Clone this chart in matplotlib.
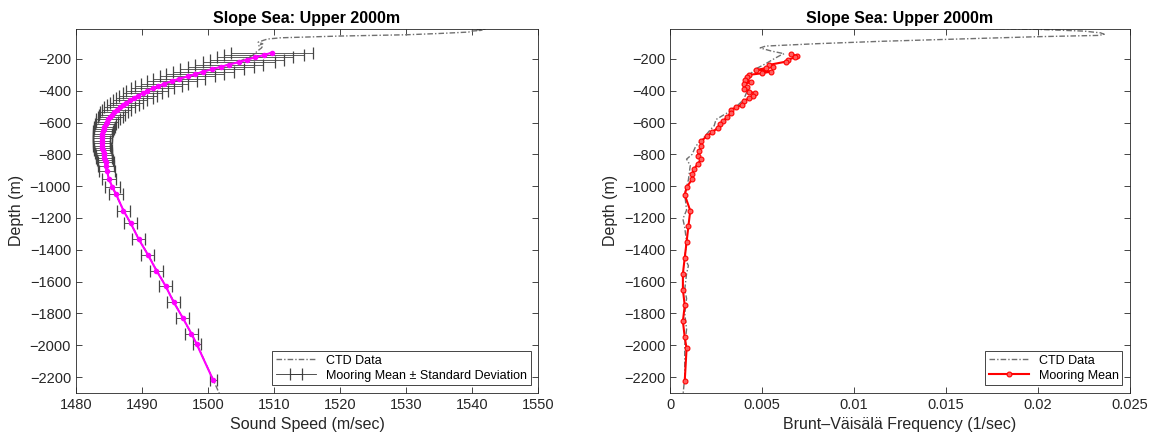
import matplotlib.pyplot as plt
import numpy as np

plt.rcParams['font.family'] = ['Liberation Sans', 'DejaVu Sans']

# ---- Sound speed panel data ----
ctd_depth_ss = [-5, -12, -16, -20, -25, -31, -40, -48, -56, -67, -75, -83, -95, -105, -115, -125, -131,
                -150, -177, -220, -300, -400, -500, -600, -700, -800, -900, -1000, -1200,
                -1400, -1600, -1800, -2000, -2200, -2320]
ctd_speed = [1541.5, 1542.0, 1540.8, 1541.6, 1539.8, 1539.5, 1535.0, 1530.0, 1520.0, 1511.0, 1509.0,
             1508.4, 1507.6, 1508.3, 1507.6, 1508.2, 1508.1, 1507.5, 1506.8, 1504.5, 1497.5,
             1491.0, 1487.0, 1484.7, 1484.0, 1484.0, 1484.6, 1485.4, 1487.8, 1490.5, 1493.2,
             1495.8, 1498.4, 1500.6, 1501.9]

moor_depth_ss = [-160, -175, -190, -205, -220, -235, -250, -265, -280, -295, -310, -325, -340,
                 -355, -370, -385, -400, -415, -430, -445, -460, -475, -490, -505, -520, -535,
                 -550, -565, -580, -595, -610, -625, -640, -655, -670, -685, -700, -715, -730,
                 -745, -760, -775, -790, -805, -820, -835, -850, -870, -904, -956, -1003, -1052,
                 -1154, -1233, -1333, -1431, -1531, -1629, -1729, -1829, -1927, -1994, -2220]
moor_speed = [1509.7, 1508.5, 1507.1, 1505.9, 1504.7, 1503.2, 1501.9, 1500.6, 1499.3, 1498.1,
              1496.9, 1495.6, 1494.5, 1493.4, 1492.5, 1491.6, 1490.8, 1490.1, 1489.4, 1488.8,
              1488.2, 1487.6, 1487.1, 1486.6, 1486.2, 1485.8, 1485.5, 1485.2, 1484.9, 1484.7,
              1484.5, 1484.3, 1484.2, 1484.1, 1484.0, 1484.0, 1484.0, 1483.9, 1483.9, 1483.9,
              1484.0, 1484.1, 1484.2, 1484.2, 1484.3, 1484.4, 1484.5, 1484.6, 1484.7, 1485.0,
              1485.5, 1486.1, 1487.2, 1488.3, 1489.5, 1490.9, 1492.2, 1493.6, 1494.8, 1496.2,
              1497.5, 1498.3, 1500.8]
moor_speed_sd = [6.2, 6.0, 5.8, 5.6, 5.4, 5.2, 5.0, 4.8, 4.6, 4.4, 4.2, 4.0, 3.8, 3.6, 3.5, 3.3,
                 3.2, 3.0, 2.9, 2.8, 2.6, 2.5, 2.4, 2.3, 2.2, 2.1, 2.0, 1.9, 1.8, 1.7, 1.6, 1.6,
                 1.5, 1.5, 1.4, 1.4, 1.4, 1.3, 1.3, 1.3, 1.3, 1.3, 1.3, 1.2, 1.2, 1.2, 1.2, 1.2,
                 1.2, 1.1, 1.1, 1.1, 1.0, 1.0, 1.0, 1.0, 1.0, 1.0, 1.0, 1.0, 1.0, 0.6, 0.5]

# ---- Brunt-Vaisala panel data ----
ctd_depth_n = [-5, -14, -25, -36, -45, -52, -60, -77, -89, -104, -119, -131, -150, -167, -177,
               -196, -230, -260, -300, -350, -400, -456, -500, -540, -560, -581, -620, -644,
               -700, -748, -800, -830, -870, -960, -1050, -1150, -1206, -1260, -1350, -1450,
               -1500, -1550, -1650, -1706, -1800, -1900, -2000, -2100, -2200, -2320]
ctd_n = [0.0155, 0.0200, 0.0225, 0.0234, 0.0236, 0.0233, 0.0200, 0.0150, 0.0115, 0.0080,
         0.0052, 0.0049, 0.0055, 0.0062, 0.0060, 0.0057, 0.0052, 0.0047, 0.0043, 0.0041,
         0.0042, 0.0040, 0.0036, 0.0031, 0.0028, 0.0025, 0.0024, 0.0022, 0.0018, 0.0014,
         0.0012, 0.0009, 0.0011, 0.0010, 0.0008, 0.0009, 0.0007, 0.0008, 0.0009, 0.0008,
         0.0010, 0.0009, 0.0008, 0.0009, 0.0008, 0.0009, 0.0008, 0.0008, 0.0008, 0.0007]

moor_depth_n = [-172, -180, -190, -205, -217, -237, -248, -258, -269, -279, -290, -300, -315,
                -331, -345, -360, -375, -390, -405, -415, -430, -446, -465, -488, -505, -519,
                -540, -565, -590, -610, -633, -660, -685, -717, -750, -779, -810, -831, -860,
                -894, -925, -956, -1008, -1054, -1154, -1250, -1352, -1450, -1550, -1650,
                -1750, -1850, -1950, -2020, -2225]
moor_n = [0.0066, 0.0069, 0.0068, 0.0064, 0.0063, 0.0054, 0.0056, 0.0052, 0.0047, 0.0055,
          0.0050, 0.0043, 0.0042, 0.0041, 0.0044, 0.0040, 0.0042, 0.0040, 0.0043, 0.0046,
          0.0045, 0.0043, 0.0040, 0.0039, 0.0036, 0.0033, 0.0033, 0.0031, 0.0029, 0.0027,
          0.0026, 0.0023, 0.0020, 0.0017, 0.0017, 0.0016, 0.0015, 0.0017, 0.0015, 0.0013,
          0.0012, 0.0012, 0.0009, 0.0008, 0.0011, 0.0010, 0.0009, 0.0008, 0.0007, 0.0007,
          0.0008, 0.0007, 0.0008, 0.0009, 0.0008]

title = 'Slope Sea: Upper 2000m'
depth_ticks = list(range(-2200, 0, 200))
speed_ticks = [1480, 1490, 1500, 1510, 1520, 1530, 1540, 1550]
n_ticks = [0, 0.005, 0.01, 0.015, 0.02, 0.025]
n_tick_labels = ['0', '0.005', '0.01', '0.015', '0.02', '0.025']

txt = '#262626'
ctd_style = dict(color='#707070', linestyle=(0, (4, 1.5, 1, 1.5)), linewidth=1.0)

fig = plt.figure(figsize=(11.56, 4.42), dpi=100)
ax1 = fig.add_axes([0.0657, 0.111, 0.3997, 0.824])
ax2 = fig.add_axes([0.5796, 0.111, 0.3979, 0.824])


def style_axes(ax):
    ax.set_ylim(-2300, -10)
    ax.set_yticks(depth_ticks)
    ax.tick_params(direction='in', top=True, right=True, length=4, width=0.6,
                   labelsize=10.5, colors=txt)
    for s in ax.spines.values():
        s.set_color('#262626')
        s.set_linewidth(0.6)
    ax.set_ylabel('Depth (m)', fontsize=11.5, color=txt)
    ax.set_title(title, fontsize=11.5, fontweight='bold', color='black', pad=4)


# left panel
ctd1, = ax1.plot(ctd_speed, ctd_depth_ss, **ctd_style, label='CTD Data')
eb = ax1.errorbar(moor_speed, moor_depth_ss, xerr=moor_speed_sd, fmt='-', color='#333333',
                  ecolor='#444444', elinewidth=0.6, linewidth=0.6, capsize=4, capthick=0.9,
                  label='Mooring Mean \u00b1 Standard Deviation')
ax1.plot(moor_speed, moor_depth_ss, color='magenta', linewidth=1.5, marker='o',
         markersize=3, markerfacecolor='magenta', markeredgecolor='magenta', zorder=5)
ax1.set_xlim(1480, 1550)
ax1.set_xticks(speed_ticks)
ax1.set_xlabel('Sound Speed (m/sec)', fontsize=11.5, color=txt)
style_axes(ax1)
leg1 = ax1.legend(handles=[ctd1, eb], loc='lower right', fontsize=9, fancybox=False,
                  edgecolor='#262626', framealpha=1, borderaxespad=0.6,
                  handlelength=3.2, borderpad=0.3, labelspacing=0.25)
leg1.get_frame().set_linewidth(0.6)

# right panel
ctd2, = ax2.plot(ctd_n, ctd_depth_n, **ctd_style, label='CTD Data')
mm, = ax2.plot(moor_n, moor_depth_n, color='red', linewidth=1.5, marker='o', markersize=3.5,
               markerfacecolor='#ff6060', markeredgecolor='red', markeredgewidth=0.8,
               label='Mooring Mean')
ax2.set_xlim(0, 0.025)
ax2.set_xticks(n_ticks)
ax2.set_xticklabels(n_tick_labels)
ax2.set_xlabel('Brunt\u2013V\u00e4is\u00e4l\u00e4 Frequency (1/sec)', fontsize=11.5, color=txt)
style_axes(ax2)
leg2 = ax2.legend(handles=[ctd2, mm], loc='lower right', fontsize=9, fancybox=False,
                  edgecolor='#262626', framealpha=1, borderaxespad=0.6,
                  handlelength=3.2, borderpad=0.3, labelspacing=0.25)
leg2.get_frame().set_linewidth(0.6)

fig.savefig('out.png', dpi=100)
